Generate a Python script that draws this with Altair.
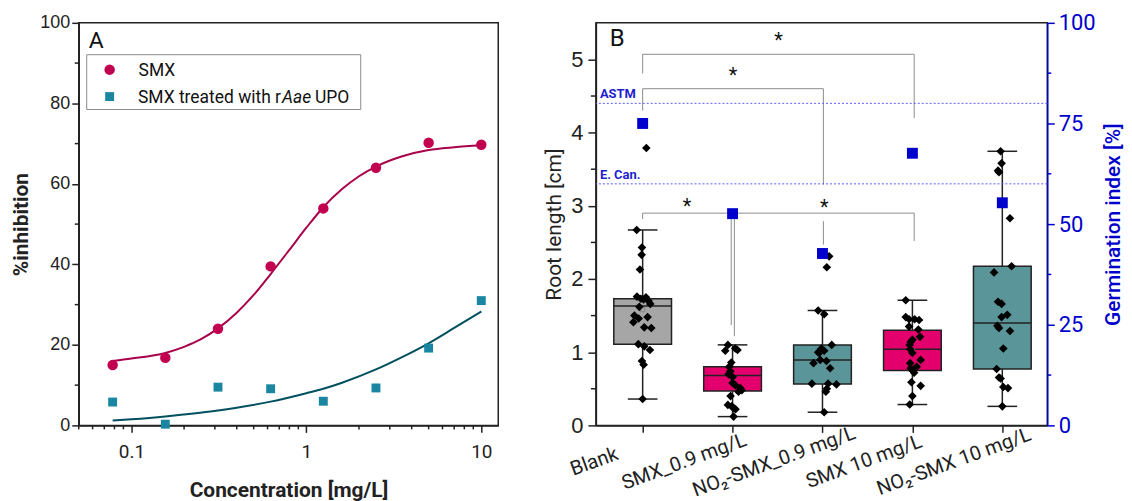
import json
import altair as alt
import pandas as pd

FONT = "Roboto"
NUM = "Liberation Sans"
INK = "#222222"
BLUE = "#0000CC"

# ---------------- Panel A data ----------------
conc = [0.078125, 0.15625, 0.3125, 0.625, 1.25, 2.5, 5.0, 10.0]
smx_inhibition = [15.0, 16.8, 24.0, 39.5, 53.9, 64.0, 70.2, 69.7]
upo_inhibition = [5.8, 0.3, 9.5, 9.1, 6.0, 9.3, 19.2, 31.0]

smx_fit_x = [0.078125, 0.1, 0.15625, 0.2, 0.25, 0.3125, 0.4, 0.5, 0.625, 0.8, 1.0,
             1.25, 1.6, 2.0, 2.5, 3.5, 5.0, 7.0, 10.0]
smx_fit_y = [16.0, 16.6, 18.0, 19.5, 21.4, 24.1, 28.0, 32.4, 37.6, 43.6, 49.1,
             54.2, 58.7, 61.9, 64.3, 66.8, 68.4, 69.1, 69.6]
upo_fit_x = [0.078125, 0.1, 0.15625, 0.2, 0.3125, 0.4, 0.625, 1.0, 1.25, 1.6, 2.5,
             3.5, 5.0, 7.0, 10.0]
upo_fit_y = [1.2, 1.5, 2.2, 2.7, 3.7, 4.4, 5.9, 8.0, 9.1, 10.6, 13.9, 16.9, 20.4,
             24.2, 28.3]

# ---------------- Panel B data ----------------
groups = ["Blank", "SMX_0.9 mg/L", "NO₂-SMX_0.9 mg/L", "SMX 10 mg/L", "NO₂-SMX 10 mg/L"]
box_low = [0.36, 0.12, 0.18, 0.285, 0.26]
box_q1 = [1.11, 0.47, 0.565, 0.75, 0.77]
box_median = [1.63, 0.68, 0.895, 1.04, 1.40]
box_q3 = [1.73, 0.80, 1.10, 1.30, 2.175]
box_high = [2.67, 1.10, 1.57, 1.71, 3.745]
box_mean = [1.58, 0.64, 0.93, 1.02, 1.69]
germination = [75.0, 52.6, 42.7, 67.6, 55.3]

blank_len = [3.79, 2.67, 2.43, 2.33, 2.13, 1.76, 1.75, 1.73, 1.72, 1.70, 1.66, 1.62,
             1.50, 1.48, 1.46, 1.41, 1.34, 1.33, 1.11, 1.08, 1.03, 0.88, 0.83, 0.36]
blank_jit = [0.041, -0.066, -0.008, -0.011, -0.030, -0.063, 0.037, -0.019, 0.011, 0.066,
             0.085, -0.037, -0.092, 0.055, -0.044, -0.103, 0.018, 0.096, -0.048, 0.018,
             0.081, -0.008, 0.011, 0.0]
smx09_len = [1.10, 1.05, 1.02, 1.03, 0.86, 0.80, 0.74, 0.70, 0.66, 0.58, 0.55, 0.51,
             0.48, 0.46, 0.40, 0.28, 0.26, 0.24, 0.22, 0.12]
smx09_jit = [-0.052, 0.030, -0.081, 0.055, -0.014, -0.037, -0.025, -0.044, 0.0, 0.0,
             0.030, 0.085, 0.103, 0.066, -0.022, -0.052, -0.011, 0.011, 0.033, 0.011]
no209_len = [2.31, 2.16, 1.57, 1.52, 1.10, 1.05, 1.02, 1.00, 0.99, 0.895, 0.88, 0.85,
             0.78, 0.57, 0.57, 0.56, 0.50, 0.46, 0.18]
no209_jit = [0.074, 0.048, -0.048, 0.019, 0.103, -0.011, 0.019, -0.048, -0.037, -0.025,
             0.044, -0.100, 0.085, -0.118, 0.063, 0.155, 0.048, 0.037, 0.019]
smx10_len = [1.71, 1.48, 1.45, 1.45, 1.44, 1.35, 1.31, 1.21, 1.17, 1.14, 1.10, 1.04,
             0.99, 0.895, 0.85, 0.80, 0.78, 0.75, 0.72, 0.59, 0.54, 0.40, 0.285]
smx10_jit = [-0.074, -0.074, -0.037, 0.025, 0.074, -0.037, 0.066, 0.085, 0.0, -0.019,
             -0.030, -0.025, 0.0, 0.092, -0.025, 0.048, -0.019, 0.0, 0.019, -0.011,
             0.092, 0.0, -0.030]
no210_len = [3.745, 3.58, 3.48, 3.46, 2.83, 2.175, 2.09, 1.69, 1.66, 1.51, 1.48, 1.36,
             1.33, 1.29, 1.05, 0.77, 0.655, 0.64, 0.525, 0.51, 0.26]
no210_jit = [-0.019, -0.008, -0.048, -0.037, 0.085, 0.103, -0.092, -0.048, -0.008, 0.055,
             -0.008, -0.055, -0.037, 0.085, 0.011, -0.063, -0.037, -0.019, 0.011, 0.063, 0.0]

# significance brackets (x in group positions, y in cm)
br_x1 = [1.0, 1.0, 1.0, 2.02]
br_x2 = [4.02, 3.01, 1.985, 4.02]
br_y = [5.07, 4.60, 2.90, 2.90]
br_left_end = [4.81, 4.30, 2.82, 1.22]
br_right_end = [4.20, 3.29, 1.37, 2.52]
star_y = [5.31, 4.83, 3.04, 3.03]
extra_leg_x = [3.01]
extra_leg_top = [2.79]
extra_leg_bottom = [2.47]

thresholds = [80, 60]
threshold_labels = ["ASTM", "E. Can."]

box_colors = ["#A6A6A6", "#E4006C", "#5A9599", "#E4006C", "#5A9599"]

# ---------------- tables ----------------
fitA = pd.concat([
    pd.DataFrame({"x": smx_fit_x, "y": smx_fit_y, "s": "SMX"}),
    pd.DataFrame({"x": upo_fit_x, "y": upo_fit_y, "s": "UPO"}),
])
ptsA = pd.DataFrame({"conc": conc, "smx": smx_inhibition, "upo": upo_inhibition})

boxes = pd.DataFrame({"pos": list(range(1, 6)), "group": groups, "low": box_low,
                      "q1": box_q1, "med": box_median, "q3": box_q3, "high": box_high,
                      "mean": box_mean, "germ": germination})
rows = []
for gi, (vals, offs) in enumerate([(blank_len, blank_jit), (smx09_len, smx09_jit),
                                   (no209_len, no209_jit), (smx10_len, smx10_jit),
                                   (no210_len, no210_jit)]):
    for v, o in zip(vals, offs):
        rows.append({"pos": gi + 1 + o, "len": v})
ptsB = pd.DataFrame(rows)

brk = pd.DataFrame({"x1": br_x1, "x2": br_x2, "y": br_y, "sy": star_y})
legs = pd.concat([
    pd.DataFrame({"x": br_x1, "top": br_y, "bot": br_left_end}),
    pd.DataFrame({"x": br_x2, "top": br_y, "bot": br_right_end}),
    pd.DataFrame({"x": extra_leg_x, "top": extra_leg_top, "bot": extra_leg_bottom}),
])
thr = pd.DataFrame({"v": thresholds, "label": threshold_labels})
one = alt.Data(values=[{"a": 1}])

# ---------------- Panel A ----------------
WA, H = 421, 404
xA = alt.Scale(type="log", domain=[0.05, 12.5], nice=False)
yA = alt.Scale(domain=[0, 100], nice=False)

axis_common = dict(grid=False, domainColor=INK, tickColor=INK, domainWidth=1.5,
                   tickWidth=1.5, labelColor=INK, titleColor=INK)

xA_axis = alt.Axis(values=[0.1, 1, 10], format="~g", tickSize=7, labelFont=FONT,
                   labelFontSize=19, labelPadding=10, title="Concentration [mg/L]",
                   titleFont=FONT, titleFontSize=21, titleFontWeight="bold",
                   titlePadding=18, **axis_common)
yA_axis = alt.Axis(values=[0, 20, 40, 60, 80, 100], tickSize=7, labelFont=NUM,
                   labelFontSize=18, labelPadding=2, title="%inhibition",
                   titleFont=FONT, titleFontSize=21, titleFontWeight="bold",
                   titlePadding=8, **axis_common)

XA = lambda f: alt.X(f, scale=xA, axis=xA_axis)
YA = lambda f: alt.Y(f, scale=yA, axis=yA_axis)

linesA = alt.Chart(fitA).mark_line(strokeWidth=2, interpolate="monotone").encode(
    x=XA("x:Q"), y=YA("y:Q"),
    color=alt.Color("s:N", scale=alt.Scale(domain=["SMX", "UPO"],
                                           range=["#A8024C", "#00505F"]), legend=None),
)
circA = alt.Chart(ptsA).mark_point(shape="circle", filled=True, size=110, opacity=1,
                                   color="#C1004F").encode(x=XA("conc:Q"), y=YA("smx:Q"))
sqA = alt.Chart(ptsA).mark_point(shape="square", filled=True, size=80, opacity=1,
                                 color="#1A86A2").encode(x=XA("conc:Q"), y=YA("upo:Q"))

minor_yA = alt.Chart(pd.DataFrame({"v": [10, 30, 50, 70, 90]})).mark_rule(
    color=INK, strokeWidth=1.5).encode(y=YA("v:Q"), x=alt.value(-4), x2=alt.value(0))
minor_xA = alt.Chart(pd.DataFrame({"v": [0.05, 0.06, 0.07, 0.08, 0.09, 0.2, 0.3, 0.4, 0.5,
                                         0.6, 0.7, 0.8, 0.9, 2, 3, 4, 5, 6, 7, 8, 9]})).mark_rule(
    color=INK, strokeWidth=1.5).encode(x=XA("v:Q"), y=alt.value(H), y2=alt.value(H + 4))

leg_box = alt.Chart(one).mark_rect(fill="white", stroke="#8C8C8C", strokeWidth=1).encode(
    x=alt.value(8), x2=alt.value(283), y=alt.value(32), y2=alt.value(87))
leg_c = alt.Chart(one).mark_point(shape="circle", filled=True, size=110, opacity=1,
                                  color="#C1004F").encode(x=alt.value(31), y=alt.value(47))
leg_s = alt.Chart(one).mark_point(shape="square", filled=True, size=80, opacity=1,
                                  color="#1A86A2").encode(x=alt.value(31), y=alt.value(74))
txt = dict(font=FONT, fontSize=17.5, color="#111111", baseline="middle")
leg_t1 = alt.Chart(one).mark_text(text="SMX", align="left", **txt).encode(
    x=alt.value(60), y=alt.value(48))
leg_t2 = alt.Chart(one).mark_text(text="SMX treated with r", align="right", **txt).encode(
    x=alt.value(203), y=alt.value(75))
leg_t3 = alt.Chart(one).mark_text(text="Aae", fontStyle="italic", align="left", **txt).encode(
    x=alt.value(204), y=alt.value(75))
leg_t4 = alt.Chart(one).mark_text(text="UPO", align="left", **txt).encode(
    x=alt.value(237), y=alt.value(75))
labA = alt.Chart(one).mark_text(text="A", font=FONT, fontSize=23, color="#111111",
                                align="left", baseline="middle").encode(
    x=alt.value(10), y=alt.value(18))

panelA = alt.layer(linesA, circA, sqA, minor_yA, minor_xA, leg_box, leg_c, leg_s,
                   leg_t1, leg_t2, leg_t3, leg_t4, labA).properties(width=WA, height=H)

# ---------------- Panel B ----------------
WB = 453
xB = alt.Scale(domain=[0.48, 5.5], nice=False, zero=False)
yB = alt.Scale(domain=[0, 5.5], nice=False)
yG = alt.Scale(domain=[0, 100], nice=False)

label_expr = json.dumps(groups, ensure_ascii=False) + "[datum.value - 1]"
xB_axis = alt.Axis(values=[1, 2, 3, 4, 5], labelExpr=label_expr, tickSize=7,
                   labelAngle=-20, labelAlign="center", labelBaseline="middle",
                   labelOffset=-49, labelPadding=29, labelFont=FONT, labelFontSize=20,
                   labelOverlap=False, labelFlush=False, labelBound=False, title=None,
                   **axis_common)
yB_axis = alt.Axis(values=[0, 1, 2, 3, 4, 5], tickSize=8, labelFont=NUM, labelFontSize=22,
                   labelPadding=5, title="Root length [cm]", titleFont=FONT,
                   titleFontSize=21, titleFontWeight="normal", titlePadding=6,
                   **axis_common)
yG_axis = alt.Axis(orient="right", values=[0, 25, 50, 75, 100], tickSize=7, grid=False,
                   domainColor=BLUE, tickColor=BLUE, domainWidth=1.5, tickWidth=1.5,
                   labelColor=BLUE, labelFont=FONT, labelFontSize=22, labelPadding=4,
                   title="Germination index [%]", titleColor=BLUE, titleFont=FONT,
                   titleFontSize=21, titleFontWeight=500, titlePadding=7,
                   titleAngle=270, titleBaseline="top")

XB = lambda f: alt.X(f, scale=xB, axis=xB_axis)
YB = lambda f: alt.Y(f, scale=yB, axis=yB_axis)
YG = lambda f: alt.Y(f, scale=yG, axis=yG_axis)

base_box = alt.Chart(boxes)
half_cap = "0.165"
half_box = "0.321"
whisk = base_box.mark_rule(color=INK, strokeWidth=1.5).encode(
    x=XB("pos:Q"), y=YB("low:Q"), y2="high:Q")
caps_lo = base_box.transform_calculate(
    xl=f"datum.pos - {half_cap}", xr=f"datum.pos + {half_cap}").mark_rule(
    color=INK, strokeWidth=1.5).encode(x=XB("xl:Q"), x2="xr:Q", y=YB("low:Q"))
caps_hi = base_box.transform_calculate(
    xl=f"datum.pos - {half_cap}", xr=f"datum.pos + {half_cap}").mark_rule(
    color=INK, strokeWidth=1.5).encode(x=XB("xl:Q"), x2="xr:Q", y=YB("high:Q"))
rects = base_box.transform_calculate(
    xl=f"datum.pos - {half_box}", xr=f"datum.pos + {half_box}").mark_rect(
    stroke=INK, strokeWidth=1.5, opacity=1).encode(
    x=XB("xl:Q"), x2="xr:Q", y=YB("q1:Q"), y2="q3:Q",
    fill=alt.Fill("group:N", scale=alt.Scale(domain=groups, range=box_colors), legend=None))
meds = base_box.transform_calculate(
    xl=f"datum.pos - {half_box}", xr=f"datum.pos + {half_box}").mark_rule(
    color=INK, strokeWidth=1.5).encode(x=XB("xl:Q"), x2="xr:Q", y=YB("med:Q"))
means = base_box.mark_point(shape="square", filled=False, size=18, color="#777777",
                            strokeWidth=1).encode(x=XB("pos:Q"), y=YB("mean:Q"))
dots = alt.Chart(ptsB).mark_point(shape="diamond", filled=True, size=75, opacity=1,
                                  color="#000000").encode(x=XB("pos:Q"), y=YB("len:Q"))
br_h = alt.Chart(brk).mark_rule(color="#8C8C8C", strokeWidth=1).encode(
    x=XB("x1:Q"), x2="x2:Q", y=YB("y:Q"))
br_v = alt.Chart(legs).mark_rule(color="#8C8C8C", strokeWidth=1).encode(
    x=XB("x:Q"), y=YB("top:Q"), y2="bot:Q")
stars = alt.Chart(brk).transform_calculate(xm="(datum.x1 + datum.x2) / 2").mark_text(
    text="*", font=FONT, fontSize=20, color="#111111", baseline="middle", dy=4).encode(
    x=XB("xm:Q"), y=YB("sy:Q"))
minor_yB = alt.Chart(pd.DataFrame({"v": [0.5, 1.5, 2.5, 3.5, 4.5]})).mark_rule(
    color=INK, strokeWidth=1.5).encode(y=YB("v:Q"), x=alt.value(-5), x2=alt.value(0))
labB = alt.Chart(one).mark_text(text="B", font=FONT, fontSize=24, color="#111111",
                                align="left", baseline="middle").encode(
    x=alt.value(14), y=alt.value(16))

left_layers = alt.layer(whisk, rects, caps_lo, caps_hi, meds, means, br_h, br_v, dots,
                        stars, minor_yB, labB)

thr_lines = alt.Chart(thr).mark_rule(color="#5B5BFF", strokeWidth=1, strokeDash=[2, 2]).encode(
    y=YG("v:Q"))
thr_text = alt.Chart(thr).mark_text(font=FONT, fontSize=13, fontWeight="bold",
                                    color="#1F1FD0", align="left", baseline="bottom",
                                    dy=-2).encode(x=alt.value(4), y=YG("v:Q"), text="label:N")
germ_sq = base_box.mark_point(shape="square", filled=True, size=120, opacity=1,
                              color=BLUE).encode(x=XB("pos:Q"), y=YG("germ:Q"))
minor_yG = alt.Chart(pd.DataFrame({"v": [12.5, 37.5, 62.5, 87.5]})).mark_rule(
    color=BLUE, strokeWidth=1.5).encode(y=YG("v:Q"), x=alt.value(WB), x2=alt.value(WB + 4))

right_layers = alt.layer(thr_lines, thr_text, germ_sq, minor_yG)

panelB = alt.layer(left_layers, right_layers).resolve_scale(y="independent").properties(
    width=WB, height=H)

chart = alt.hconcat(panelA, panelB, spacing=98, bounds="flush").properties(
    padding={"left": 2, "top": 2, "right": 0, "bottom": 0}
).configure_view(stroke=INK, strokeWidth=1.5)

chart.save("out.html", embed_options={"renderer": "svg", "actions": False})
